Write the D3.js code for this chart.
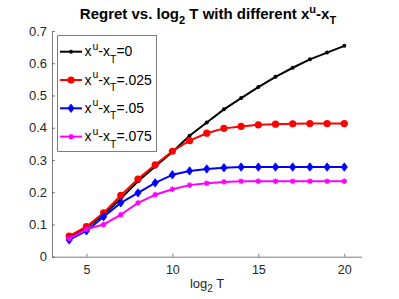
<!DOCTYPE html>
<html><head><meta charset="utf-8">
<script src="https://cdn.jsdelivr.net/npm/d3@7"></script>
<style>body{margin:0;background:#fff}svg{display:block}text{font-family:"Liberation Sans",Arial,sans-serif}</style>
</head><body><svg id="c" width="399" height="299"></svg>
<script>
const xs = [4,5,6,7,8,9,10,11,12,13,14,15,16,17,18,19,20];
const s0   = [0.060,0.090,0.130,0.180,0.234,0.280,0.325,0.375,0.416,0.457,0.492,0.526,0.558,0.586,0.612,0.633,0.654];
const s025 = [0.064,0.093,0.136,0.190,0.241,0.285,0.327,0.360,0.383,0.398,0.404,0.409,0.411,0.412,0.413,0.413,0.413];
const s05  = [0.052,0.080,0.124,0.167,0.198,0.229,0.254,0.266,0.272,0.276,0.278,0.278,0.278,0.278,0.278,0.278,0.278];
const s075 = [0.056,0.085,0.100,0.130,0.167,0.192,0.209,0.222,0.228,0.232,0.234,0.234,0.234,0.234,0.234,0.234,0.234];
const labels = ["=0","=.025","=.05","=.075"];
const xTicks = [5,10,15,20];
const yTicks = [0,0.1,0.2,0.3,0.4,0.5,0.6,0.7];

const series = [
  {v:s0, color:"#000000", marker:"dot"},
  {v:s025, color:"#ff0000", marker:"circle"},
  {v:s05, color:"#0000ff", marker:"diamond"},
  {v:s075, color:"#ff00ff", marker:"star"}
];

const svg = d3.select("#c");
const L=52, R=361.5, T=31, B=256.7;
const x = d3.scaleLinear().domain([3,21]).range([L,R]);
const y = d3.scaleLinear().domain([0,0.7]).range([B,T]);
const axisColor="#262626";

// axes
const gx = svg.append("g").attr("transform",`translate(0,${B})`)
  .call(d3.axisBottom(x).tickValues(xTicks).tickSizeInner(-3).tickSizeOuter(0).tickPadding(8));
const gy = svg.append("g").attr("transform",`translate(${L},0)`)
  .call(d3.axisLeft(y).tickValues(yTicks).tickFormat(d=>d===0?"0":d3.format(".1f")(d)).tickSizeInner(-3).tickSizeOuter(0).tickPadding(5));
[gx,gy].forEach(g=>{
  g.select(".domain").attr("stroke",axisColor).attr("stroke-width",0.6);
  g.selectAll(".tick line").attr("stroke",axisColor).attr("stroke-width",0.6);
  g.selectAll(".tick text").attr("fill",axisColor).style("font-size","13px").style("font-family","'Liberation Sans',Arial,sans-serif");
});
gx.selectAll(".tick text").attr("dy","0.71em").style("font-size","12.5px");

function drawMarker(g, type, cx, cy, color){
  if(type==="dot"){
    g.append("circle").attr("cx",cx).attr("cy",cy).attr("r",2).attr("fill",color);
  } else if(type==="circle"){
    g.append("circle").attr("cx",cx).attr("cy",cy).attr("r",3.6).attr("fill",color);
  } else if(type==="diamond"){
    const s=4.2;
    g.append("path").attr("d",`M${cx},${cy-s}L${cx+s*0.75},${cy}L${cx},${cy+s}L${cx-s*0.75},${cy}Z`).attr("fill",color).attr("stroke",color).attr("stroke-width",0.8);
  } else if(type==="star"){
    const s=2.8;
    let d="";
    for(let k=0;k<4;k++){const a=k*Math.PI/4;d+=`M${cx-s*Math.cos(a)},${cy-s*Math.sin(a)}L${cx+s*Math.cos(a)},${cy+s*Math.sin(a)}`;}
    g.append("path").attr("d",d).attr("stroke",color).attr("stroke-width",1.3).attr("fill","none");
  }
}

const line = d3.line().x((d,i)=>x(xs[i])).y(d=>y(d));
series.forEach(s=>{
  const g = svg.append("g");
  g.append("path").attr("d",line(s.v)).attr("fill","none").attr("stroke",s.color).attr("stroke-width",2).attr("stroke-linejoin","round");
  s.v.forEach((v,i)=>drawMarker(g,s.marker,x(xs[i]),y(v),s.color));
});

// legend
const lg = svg.append("g");
lg.append("rect").attr("x",57.7).attr("y",35.7).attr("width",99).attr("height",115.8)
  .attr("fill","#fff").attr("stroke",axisColor).attr("stroke-width",0.6);
const rowY=[51.7,80,108.3,136.6];
series.forEach((s,i)=>{
  const yy=rowY[i];
  lg.append("line").attr("x1",60).attr("x2",82).attr("y1",yy).attr("y2",yy).attr("stroke",s.color).attr("stroke-width",2);
  drawMarker(lg,s.marker,71,yy,s.color);
  const t = lg.append("text").attr("x",84.5).attr("y",yy+4.5).attr("fill","#000").style("font-size","14px");
  t.append("tspan").text("x");
  t.append("tspan").attr("dy",-6.5).attr("dx",1).style("font-size","10.5px").text("u");
  t.append("tspan").attr("dy",6.5).text("-x");
  t.append("tspan").attr("dy",6.5).style("font-size","10.5px").text("T");
  t.append("tspan").attr("dy",-6.5).text(labels[i]);
});

// title
const tt = svg.append("text").attr("x",208).attr("y",19).attr("text-anchor","middle")
  .style("font-size","15px").style("font-weight","bold").attr("fill","#000");
tt.append("tspan").text("Regret vs. log");
tt.append("tspan").attr("dy",4.5).style("font-size","11px").text("2");
tt.append("tspan").attr("dy",-4.5).text(" T with different x");
tt.append("tspan").attr("dy",-6).style("font-size","11px").text("u");
tt.append("tspan").attr("dy",6).text("-x");
tt.append("tspan").attr("dy",4.5).style("font-size","11px").text("T");

// x label
const xl = svg.append("text").attr("x",207).attr("y",288).attr("text-anchor","middle")
  .style("font-size","13px").attr("fill",axisColor);
xl.append("tspan").text("log");
xl.append("tspan").attr("dy",4).style("font-size","10px").text("2");
xl.append("tspan").attr("dy",-4).text(" T");
</script></body></html>
